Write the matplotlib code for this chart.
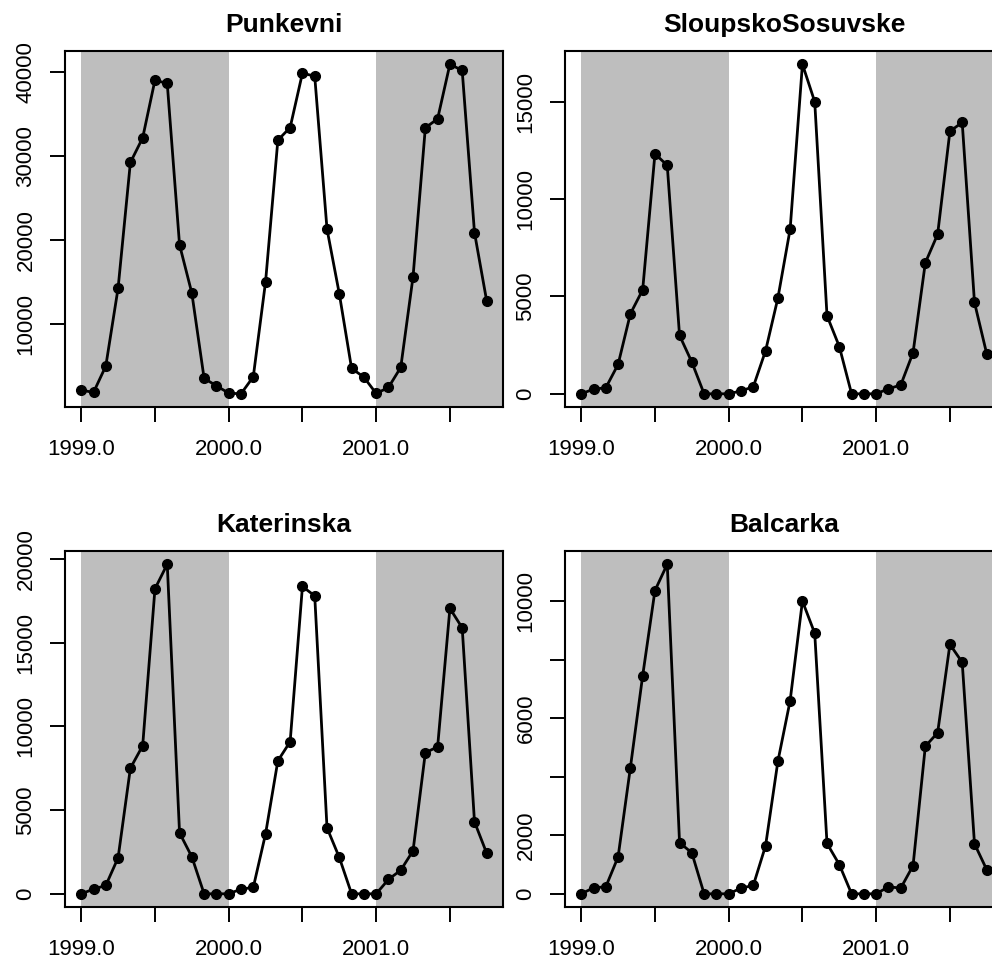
import matplotlib
matplotlib.use("Agg")
import matplotlib.pyplot as plt
import numpy as np

plt.rcParams["font.family"] = ["Liberation Sans", "DejaVu Sans"]

# monthly series, January 1999 to October 2001
months = 1999 + np.arange(34) / 12

punkevni = [2090, 1820, 4960, 14250, 29230, 32170, 39050, 38650, 19420, 13660,
            3490, 2610, 1730, 1650, 3680, 15010, 31890, 33400, 39880, 39520,
            21290, 13580, 4680, 3640, 1690, 2410, 4800, 15600, 33360, 34440,
            40950, 40200, 20880, 12660]
sloupsko = [0, 240, 310, 1510, 4110, 5340, 12330, 11730, 3000, 1630,
            0, 0, 0, 150, 360, 2210, 4910, 8460, 16930, 15000,
            4010, 2430, 0, 0, 0, 260, 450, 2110, 6730, 8190,
            13480, 13940, 4690, 2040]
katerinska = [0, 280, 500, 2150, 7500, 8840, 18210, 19680, 3640, 2210,
              0, 0, 0, 280, 380, 3580, 7940, 9080, 18350, 17790,
              3940, 2170, 0, 0, 0, 860, 1410, 2570, 8420, 8780,
              17040, 15880, 4300, 2410]
balcarka = [0, 205, 240, 1260, 4310, 7450, 10360, 11260, 1750, 1400,
            0, 0, 0, 195, 285, 1640, 4520, 6600, 10000, 8900,
            1720, 1000, 0, 0, 0, 240, 195, 960, 5040, 5500,
            8520, 7910, 1710, 820]

names = ["Punkevni", "SloupskoSosuvske", "Katerinska", "Balcarka"]
series = [punkevni, sloupsko, katerinska, balcarka]

# y ticks per panel and which of them carry a label
yticks = [
    [10000, 20000, 30000, 40000],
    [0, 5000, 10000, 15000],
    [0, 5000, 10000, 15000, 20000],
    [0, 2000, 4000, 6000, 8000, 10000],
]
ylabels = [
    ["10000", "20000", "30000", "40000"],
    ["0", "5000", "10000", "15000"],
    ["0", "5000", "10000", "15000", "20000"],
    ["0", "2000", "", "6000", "", "10000"],
]
xticks = [1999.0, 1999.5, 2000.0, 2000.5, 2001.0, 2001.5]
xlabels = ["1999.0", "", "2000.0", "", "2001.0", ""]

# shaded years
shade_start = [1999, 2001]
shade_end = [2000, 2002]

W, H = 992, 961
fig = plt.figure(figsize=(W / 100, H / 100), dpi=100)

# panel frames in pixels: left, top
frames = [(65, 51), (565, 51), (65, 551), (565, 551)]
pw, ph = 438, 356

for (left, top), name, vals, yt, yl in zip(frames, names, series, yticks, ylabels):
    ax = fig.add_axes([left / W, 1 - (top + ph) / H, pw / W, ph / H])
    vals = np.array(vals)

    for s, e in zip(shade_start, shade_end):
        ax.axvspan(s, e, color="#BEBEBE", lw=0, zorder=0)

    ax.plot(months, vals, color="black", lw=2.0, marker="o", ms=7,
            zorder=3)

    xpad = 0.04 * (months.max() - months.min())
    ypad = 0.04 * (vals.max() - vals.min())
    ax.set_xlim(months.min() - xpad, months.max() + xpad)
    ax.set_ylim(vals.min() - ypad, vals.max() + ypad)

    ax.set_xticks(xticks)
    ax.set_xticklabels(xlabels)
    ax.set_yticks(yt)
    ax.set_yticklabels(yl, rotation=90, va="center")
    ax.tick_params(direction="out", length=10.5, width=1.4, labelsize=16,
                   pad=12.5)
    ax.tick_params(axis="y", pad=10)
    for sp in ax.spines.values():
        sp.set_linewidth(1.5)

    ax.set_title(name, fontsize=19, fontweight="bold", pad=13.5)

fig.savefig("out.png", dpi=100)
